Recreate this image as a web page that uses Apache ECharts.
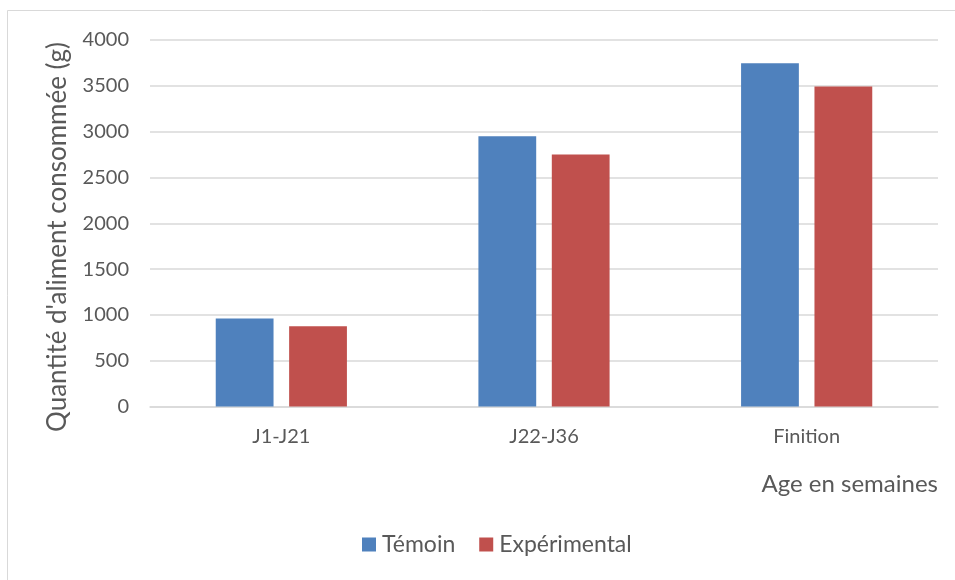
<!DOCTYPE html>
<html>
<head>
<meta charset="utf-8">
<script src="https://cdn.jsdelivr.net/npm/echarts@6/dist/echarts.min.js"></script>
<style>
  html, body { margin: 0; padding: 0; background: #fff; }
  #chart { width: 955px; height: 580px; }
</style>
</head>
<body>
<div id="chart"></div>
<script>
// Feed consumption per rearing phase
const categories = ['J1-J21', 'J22-J36', 'Finition'];
const temoin = [960, 2950, 3745];
const experimental = [875, 2750, 3492];
const yTicks = { min: 0, max: 4000, interval: 500 };

const FONT = 'Lato, "Open Sans", sans-serif';
const TEXT = '#595959';

const chart = echarts.init(document.getElementById('chart'), null, { renderer: 'canvas' });

chart.setOption({
  animation: false,
  backgroundColor: '#ffffff',
  textStyle: { fontFamily: FONT },
  grid: { left: 150, right: 17, top: 40, height: 366.5, containLabel: false },
  legend: {
    bottom: 19,
    left: 357,
    itemWidth: 14,
    itemHeight: 14,
    itemGap: 24,
    icon: 'rect',
    textStyle: { fontFamily: FONT, fontSize: 23, color: TEXT, padding: [0, 0, 0, 1] },
    data: ['Témoin', 'Expérimental']
  },
  xAxis: {
    type: 'category',
    data: categories,
    axisLine: { lineStyle: { color: '#d9d9d9', width: 1.5 } },
    axisTick: { show: false },
    axisLabel: { color: TEXT, fontSize: 20, margin: 20, fontFamily: FONT }
  },
  yAxis: {
    type: 'value',
    min: yTicks.min,
    max: yTicks.max,
    interval: yTicks.interval,
    axisLine: { show: false },
    axisTick: { show: false },
    axisLabel: {
      color: TEXT, fontSize: 20, margin: 21, fontFamily: FONT,
      formatter: v => String(v)
    },
    splitLine: { lineStyle: { color: '#d9d9d9', width: 1.5 } }
  },
  series: [
    {
      name: 'Témoin',
      type: 'bar',
      data: temoin,
      barWidth: '22%',
      barGap: '27%',
      itemStyle: { color: '#4f81bd' }
    },
    {
      name: 'Expérimental',
      type: 'bar',
      data: experimental,
      barWidth: '22%',
      itemStyle: { color: '#c0504d' }
    }
  ],
  graphic: [
    {
      type: 'rect',
      shape: { x: 7.5, y: 10.5, width: 1000, height: 1000 },
      style: { fill: 'none', stroke: '#d9d9d9', lineWidth: 1 },
      silent: true,
      z: -1
    },
    {
      type: 'text',
      x: 58,
      y: 237,
      rotation: Math.PI / 2,
      style: {
        text: "Quantité d'aliment consommée (g)",
        fill: TEXT, fontSize: 26, fontFamily: FONT,
        align: 'center', verticalAlign: 'middle'
      }
    },
    {
      type: 'text',
      right: 17,
      top: 472,
      style: { text: 'Age en semaines', fill: TEXT, fontSize: 24, fontFamily: FONT }
    }
  ]
});
</script>
</body>
</html>
